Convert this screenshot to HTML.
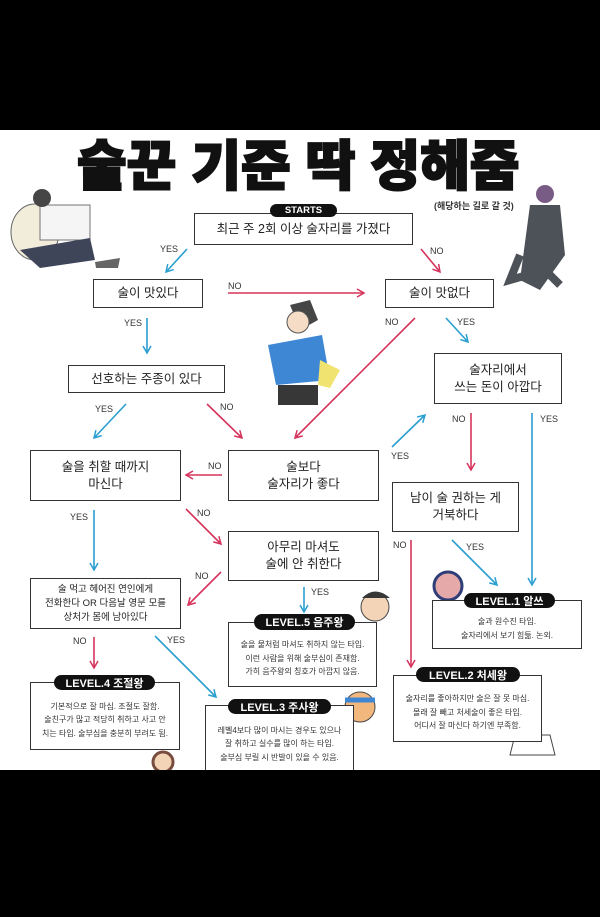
<!DOCTYPE html>
<html><head><meta charset="utf-8"><style>
*{margin:0;padding:0;box-sizing:border-box}
body{width:600px;height:917px;background:#000;position:relative;overflow:hidden;font-family:"Liberation Sans","Noto Sans CJK KR",sans-serif;color:#222}
#w{position:absolute;left:0;top:130px;width:600px;height:640px;background:#fff}
.b{position:absolute;border:1.5px solid #333;background:#fff;display:flex;align-items:center;justify-content:center;text-align:center;font-size:12.5px;line-height:17px;color:#222}
.p{position:absolute;background:#111;color:#fff;border-radius:8px;font-weight:bold;font-size:11px;display:flex;align-items:center;justify-content:center;white-space:nowrap}
.l{position:absolute;font-size:9px;color:#333;white-space:nowrap}
.s{font-size:8px;line-height:13.5px;color:#333}
</style></head><body>
<div id="w"></div>
<div style="position:absolute;left:77px;top:134px;width:460px;height:66px;font-size:54px;font-weight:900;line-height:66px;color:#111;white-space:nowrap;letter-spacing:0;-webkit-text-stroke:2px #111">술꾼 기준 딱 정해줌</div>
<div class="l" style="left:434px;top:199px;font-size:9px;font-weight:bold">(해당하는 길로 갈 것)</div>

<svg style="position:absolute;left:0;top:0" width="600" height="917">
<g opacity="0.9">
<ellipse cx="35" cy="232" rx="24" ry="28" fill="#f1ead8" stroke="#555"/>
<rect x="40" y="205" width="50" height="35" fill="#f5f5f5" stroke="#666"/>
<path d="M20 250 L90 238 L95 260 L40 268 Z" fill="#2b3147"/>
<circle cx="42" cy="198" r="9" fill="#333"/>
<path d="M95 262 L120 258 L118 268 L96 268 Z" fill="#555"/>
<circle cx="545" cy="194" r="9" fill="#6b4b7a"/>
<path d="M530 205 L560 205 L565 255 L540 290 L520 280 Z" fill="#3a3f47"/>
<path d="M520 255 L510 280 L545 270 L560 285" stroke="#3a3f47" stroke-width="8" fill="none"/>
<path d="M290 305 L310 300 L318 320 L300 330 Z" fill="#333"/>
<circle cx="298" cy="322" r="11" fill="#f3d9c0" stroke="#444"/>
<path d="M268 345 L322 335 L330 380 L276 385 Z" fill="#2a7bd0"/>
<rect x="278" y="385" width="40" height="20" fill="#222"/>
<path d="M320 360 L340 370 L330 388 L318 385 Z" fill="#f0e060"/>
<circle cx="375" cy="607" r="14" fill="#f3d0b0" stroke="#333"/>
<path d="M362 598 Q375 585 390 598" fill="#222"/>
<circle cx="448" cy="586" r="14" fill="#e4a0a0" stroke="#1a2a6a" stroke-width="3"/>
<circle cx="360" cy="707" r="15" fill="#f0b070" stroke="#333"/>
<path d="M345 700 L375 700" stroke="#2a7bd0" stroke-width="5"/>
<circle cx="530" cy="722" r="11" fill="#f3d0b0" stroke="#333"/>
<path d="M515 735 L550 735 L555 755 L510 755 Z" fill="#fff" stroke="#333"/>
<circle cx="163" cy="762" r="10" fill="#f3d0b0" stroke="#6b3a2a" stroke-width="3"/>
</g>
<defs>
<marker id="bl" markerWidth="10" markerHeight="10" refX="8" refY="5" orient="auto" markerUnits="userSpaceOnUse"><path d="M1 1 L8 5 L1 9" fill="none" stroke="#2a9ed0" stroke-width="1.5"/></marker>
<marker id="rd" markerWidth="10" markerHeight="10" refX="8" refY="5" orient="auto" markerUnits="userSpaceOnUse"><path d="M1 1 L8 5 L1 9" fill="none" stroke="#d6335c" stroke-width="1.5"/></marker>
</defs>
<g stroke-width="1.6" fill="none">
<line x1="187" y1="249" x2="166" y2="272" stroke="#2a9ed0" marker-end="url(#bl)"/>
<line x1="421" y1="249" x2="440" y2="272" stroke="#d6335c" marker-end="url(#rd)"/>
<line x1="228" y1="293" x2="364" y2="293" stroke="#d6335c" marker-end="url(#rd)"/>
<line x1="147" y1="318" x2="147" y2="353" stroke="#2a9ed0" marker-end="url(#bl)"/>
<line x1="415" y1="318" x2="295" y2="438" stroke="#d6335c" marker-end="url(#rd)"/>
<line x1="446" y1="318" x2="468" y2="342" stroke="#2a9ed0" marker-end="url(#bl)"/>
<line x1="126" y1="404" x2="94" y2="438" stroke="#2a9ed0" marker-end="url(#bl)"/>
<line x1="207" y1="404" x2="242" y2="438" stroke="#d6335c" marker-end="url(#rd)"/>
<line x1="222" y1="475" x2="186" y2="475" stroke="#d6335c" marker-end="url(#rd)"/>
<line x1="392" y1="447" x2="425" y2="415" stroke="#2a9ed0" marker-end="url(#bl)"/>
<line x1="471" y1="413" x2="471" y2="470" stroke="#d6335c" marker-end="url(#rd)"/>
<line x1="532" y1="413" x2="532" y2="585" stroke="#2a9ed0" marker-end="url(#bl)"/>
<line x1="94" y1="510" x2="94" y2="570" stroke="#2a9ed0" marker-end="url(#bl)"/>
<line x1="186" y1="509" x2="221" y2="544" stroke="#d6335c" marker-end="url(#rd)"/>
<line x1="411" y1="540" x2="411" y2="667" stroke="#d6335c" marker-end="url(#rd)"/>
<line x1="452" y1="540" x2="497" y2="585" stroke="#2a9ed0" marker-end="url(#bl)"/>
<line x1="221" y1="572" x2="188" y2="605" stroke="#d6335c" marker-end="url(#rd)"/>
<line x1="304" y1="587" x2="304" y2="612" stroke="#2a9ed0" marker-end="url(#bl)"/>
<line x1="94" y1="637" x2="94" y2="668" stroke="#d6335c" marker-end="url(#rd)"/>
<line x1="155" y1="636" x2="216" y2="697" stroke="#2a9ed0" marker-end="url(#bl)"/>
</g>
</svg>

<div class="l" style="left:160px;top:244px">YES</div>
<div class="l" style="left:430px;top:246px">NO</div>
<div class="l" style="left:228px;top:281px">NO</div>
<div class="l" style="left:124px;top:318px">YES</div>
<div class="l" style="left:385px;top:317px">NO</div>
<div class="l" style="left:457px;top:317px">YES</div>
<div class="l" style="left:95px;top:404px">YES</div>
<div class="l" style="left:220px;top:402px">NO</div>
<div class="l" style="left:208px;top:461px">NO</div>
<div class="l" style="left:391px;top:451px">YES</div>
<div class="l" style="left:452px;top:414px">NO</div>
<div class="l" style="left:540px;top:414px">YES</div>
<div class="l" style="left:70px;top:512px">YES</div>
<div class="l" style="left:197px;top:508px">NO</div>
<div class="l" style="left:393px;top:540px">NO</div>
<div class="l" style="left:466px;top:542px">YES</div>
<div class="l" style="left:195px;top:571px">NO</div>
<div class="l" style="left:311px;top:587px">YES</div>
<div class="l" style="left:73px;top:636px">NO</div>
<div class="l" style="left:167px;top:635px">YES</div>

<div class="b" style="left:194px;top:213px;width:219px;height:32px">최근 주 2회 이상 술자리를 가졌다</div>
<div class="p" style="left:270px;top:204px;width:67px;height:13px;font-size:9.5px">STARTS</div>
<div class="b" style="left:93px;top:279px;width:110px;height:29px">술이 맛있다</div>
<div class="b" style="left:385px;top:279px;width:109px;height:29px">술이 맛없다</div>
<div class="b" style="left:68px;top:365px;width:157px;height:28px">선호하는 주종이 있다</div>
<div class="b" style="left:434px;top:353px;width:128px;height:51px">술자리에서<br>쓰는 돈이 아깝다</div>
<div class="b" style="left:30px;top:450px;width:151px;height:51px">술을 취할 때까지<br>마신다</div>
<div class="b" style="left:228px;top:450px;width:151px;height:51px">술보다<br>술자리가 좋다</div>
<div class="b" style="left:392px;top:482px;width:127px;height:50px">남이 술 권하는 게<br>거북하다</div>
<div class="b" style="left:228px;top:531px;width:151px;height:50px">아무리 마셔도<br>술에 안 취한다</div>
<div class="b" style="left:30px;top:578px;width:151px;height:51px;font-size:9.5px;line-height:14px">술 먹고 헤어진 연인에게<br>전화한다 OR 다음날 영문 모를<br>상처가 몸에 남아있다</div>

<div class="b s" style="left:228px;top:622px;width:149px;height:65px;padding-top:8px">술을 물처럼 마셔도 취하지 않는 타입.<br>이런 사람을 위해 술부심이 존재함.<br>가히 음주왕의 칭호가 아깝지 않음.</div>
<div class="p" style="left:254px;top:614px;width:101px;height:16px">LEVEL.5 음주왕</div>

<div class="b s" style="left:432px;top:600px;width:150px;height:49px;padding-top:8px">술과 원수진 타입.<br>술자리에서 보기 힘듦. 논외.</div>
<div class="p" style="left:464px;top:593px;width:91px;height:15px">LEVEL.1 알쓰</div>

<div class="b s" style="left:30px;top:682px;width:150px;height:68px;padding-top:8px">기본적으로 잘 마심. 조절도 잘함.<br>술친구가 많고 적당히 취하고 사고 안<br>치는 타입. 술부심을 충분히 부려도 됨.</div>
<div class="p" style="left:54px;top:675px;width:101px;height:15px">LEVEL.4 조절왕</div>

<div class="b s" style="left:393px;top:675px;width:149px;height:67px;padding-top:8px">술자리를 좋아하지만 술은 잘 못 마심.<br>몰래 잘 빼고 처세술이 좋은 타입.<br>어디서 잘 마신다 하기엔 부족함.</div>
<div class="p" style="left:416px;top:667px;width:104px;height:15px">LEVEL.2 처세왕</div>

<div class="b s" style="left:205px;top:705px;width:149px;height:70px;padding-top:8px">레벨4보다 많이 마시는 경우도 있으나<br>잘 취하고 실수를 많이 하는 타입.<br>술부심 부릴 시 반발이 있을 수 있음.</div>
<div class="p" style="left:228px;top:699px;width:103px;height:15px">LEVEL.3 주사왕</div>

<div style="position:absolute;left:0;top:770px;width:600px;height:147px;background:#000"></div>
</body></html>
